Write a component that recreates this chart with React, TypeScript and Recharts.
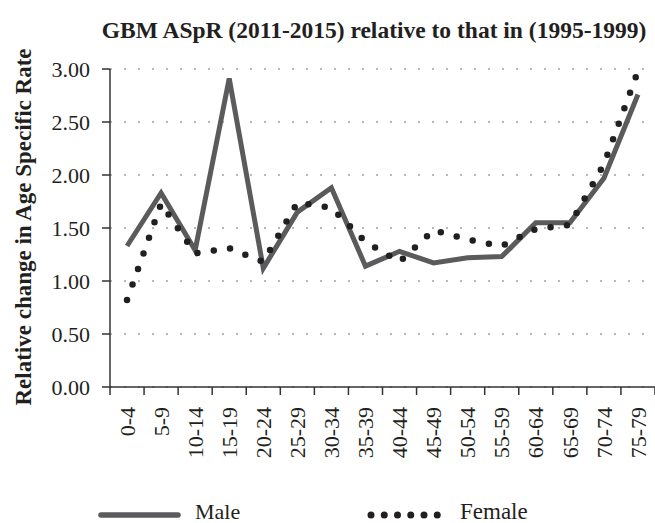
import { LineChart, Line, XAxis, YAxis, CartesianGrid } from "recharts"

const ageGroups = [
    "0-4", "5-9", "10-14", "15-19", "20-24", "25-29", "30-34", "35-39",
    "40-44", "45-49", "50-54", "55-59", "60-64", "65-69", "70-74", "75-79",
]
const maleRate = [1.33, 1.83, 1.29, 2.91, 1.12, 1.65, 1.88, 1.14, 1.28, 1.17, 1.22, 1.23, 1.55, 1.55, 1.97, 2.76]
const femaleRate = [0.82, 1.73, 1.26, 1.31, 1.18, 1.74, 1.69, 1.37, 1.18, 1.48, 1.39, 1.33, 1.49, 1.53, 2.1, 2.98]
const yTicks = [0, 0.5, 1, 1.5, 2, 2.5, 3]

const data = ageGroups.map((name, i) => ({
    name,
    male: maleRate[i],
    female: femaleRate[i],
}))

const font = '"Liberation Serif", "Times New Roman", serif'
const ink = "#231f20"
const maleColor = "#5b5b5d"

const W = 655
const H = 523
const plotLeft = 110
const band = (W - plotLeft) / ageGroups.length

// category ticks sit on band edges, labels in the middle
const XTick = (props: any) => {
    const { x, y, payload, index } = props
    const last = index === ageGroups.length - 1
    return (
        <g>
            <line x1={x - band / 2} x2={x - band / 2} y1={y} y2={y + 8} stroke="#333" strokeWidth={1.5} />
            {last && <line x1={x + band / 2} x2={x + band / 2} y1={y} y2={y + 8} stroke="#333" strokeWidth={1.5} />}
            <text
                transform={`translate(${x},${y + 20}) rotate(-90)`}
                textAnchor="end"
                dy="0.35em"
                fontFamily={font}
                fontSize={22}
                fill={ink}
            >
                {payload.value}
            </text>
        </g>
    )
}

const YLabel = (props: any) => {
    const { viewBox } = props
    const cx = 23
    const cy = viewBox.y + viewBox.height / 2 - 1
    return (
        <text
            transform={`translate(${cx},${cy}) rotate(-90)`}
            textAnchor="middle"
            dy="0.35em"
            fontFamily={font}
            fontWeight="bold"
            fontSize={23}
            fill={ink}
        >
            Relative change in Age Specific Rate
        </text>
    )
}

export default function App() {
    return (
        <div style={{ position: "relative", width: W, height: H, background: "#fff", fontFamily: font }}>
            <style>{`body{margin:0}`}</style>
            <div
                style={{
                    position: "absolute",
                    top: 18,
                    left: 374,
                    transform: "translateX(-50%)",
                    whiteSpace: "nowrap",
                    fontWeight: "bold",
                    fontSize: 23.5,
                    lineHeight: "24px",
                    color: ink,
                }}
            >
                GBM ASpR (2011-2015) relative to that in (1995-1999)
            </div>
            <LineChart width={W} height={H} data={data} margin={{ top: 69, right: 0, bottom: 56, left: 0 }}>
                <CartesianGrid vertical={false} stroke="#b8b8b8" strokeWidth={2} strokeDasharray="2 12" />
                <XAxis
                    dataKey="name"
                    interval={0}
                    height={80}
                    padding={{ left: band / 2, right: band / 2 }}
                    tickLine={false}
                    tickSize={0}
                    tickMargin={0}
                    axisLine={{ stroke: "#333", strokeWidth: 1.5 }}
                    tick={(p: any) => <XTick {...p} />}
                />
                <YAxis
                    width={plotLeft}
                    domain={[0, 3]}
                    ticks={yTicks}
                    tickSize={8}
                    tickMargin={12}
                    tickFormatter={(v: number) => v.toFixed(2)}
                    tick={{ fontFamily: font, fontSize: 22, fill: ink }}
                    tickLine={{ stroke: "#333", strokeWidth: 1.5 }}
                    axisLine={{ stroke: "#333", strokeWidth: 1.5 }}
                    label={(p: any) => <YLabel {...p} />}
                />
                <Line
                    dataKey="male"
                    type="linear"
                    stroke={maleColor}
                    strokeWidth={5}
                    dot={false}
                    isAnimationActive={false}
                />
                <Line
                    dataKey="female"
                    type="linear"
                    stroke={ink}
                    strokeWidth={6.5}
                    strokeDasharray="0 16.5"
                    strokeLinecap="round"
                    dot={false}
                    isAnimationActive={false}
                />
            </LineChart>
            <svg style={{ position: "absolute", left: 0, top: 495 }} width={W} height={28}>
                <line x1={101} x2={178} y1={20} y2={20} stroke={maleColor} strokeWidth={5.5} strokeLinecap="round" />
                <text x={195} y={24} fontFamily={font} fontSize={22} fill={ink}>Male</text>
                <line x1={371} x2={437.5} y1={20} y2={20} stroke={ink} strokeWidth={7} strokeDasharray="0 13.25" strokeLinecap="round" />
                <text x={460} y={24} fontFamily={font} fontSize={23} fill={ink}>Female</text>
            </svg>
        </div>
    )
}
